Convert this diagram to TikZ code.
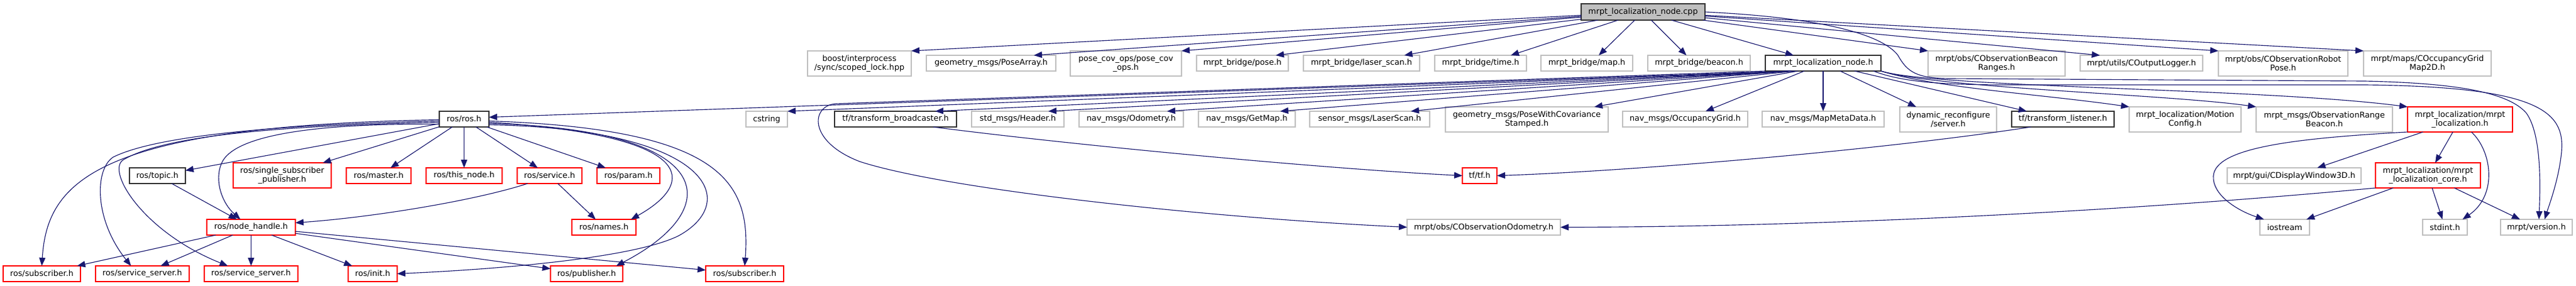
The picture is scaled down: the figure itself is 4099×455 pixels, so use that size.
\documentclass[tikz,border=0pt]{standalone}
\usepackage{fontspec}
\setmainfont{DejaVu Sans}
\usetikzlibrary{arrows.meta}
\definecolor{edgecol}{HTML}{191970}
\definecolor{extgray}{HTML}{BFBFBF}
\definecolor{redbox}{HTML}{FF0000}
\newcommand\mknode[7]{\node[#1, minimum width=#5pt, minimum height=#6pt] (#2) at (#3,#4) {#7};}
\begin{document}
\begin{tikzpicture}[x=1pt,y=-1pt,
  font=\fontsize{12.7pt}{14pt}\selectfont,
  boxbase/.style={inner sep=0pt, outer sep=0pt, line width=1.1pt, align=center, text=black},
  gbox/.style={boxbase, draw=extgray},
  rbox/.style={boxbase, draw=redbox},
  bbox/.style={boxbase, draw=black!80},
  conn/.style={draw=edgecol, line width=1.15pt, -{Triangle[length=13pt,width=10pt]}}]
\useasboundingbox (0,0) rectangle (4099,455);
% row 0
\mknode{bbox,fill=extgray}{cpp}{2614.5}{19}{197}{26}{mrpt\_localization\_node.cpp}
% row 1
\mknode{gbox}{boost}{1367.5}{101}{165}{40}{boost/interprocess\\/sync/scoped\_lock.hpp}
\mknode{gbox}{posearray}{1577}{100.5}{206}{25}{geometry\_msgs/PoseArray.h}
\mknode{gbox}{posecov}{1791.5}{101}{177}{40}{pose\_cov\_ops/pose\_cov\\\_ops.h}
\mknode{gbox}{bpose}{1977}{100.5}{146}{25}{mrpt\_bridge/pose.h}
\mknode{gbox}{blaser}{2166.5}{100.5}{185}{25}{mrpt\_bridge/laser\_scan.h}
\mknode{gbox}{btime}{2356}{100.5}{146}{25}{mrpt\_bridge/time.h}
\mknode{gbox}{bmap}{2525}{100.5}{146}{25}{mrpt\_bridge/map.h}
\mknode{gbox}{bbeacon}{2703.5}{100.5}{163}{25}{mrpt\_bridge/beacon.h}
\mknode{bbox}{nodeh}{2901}{100.5}{184}{25}{mrpt\_localization\_node.h}
\mknode{gbox}{ranges}{3177}{101}{218}{40}{mrpt/obs/CObservationBeacon\\Ranges.h}
\mknode{gbox}{logger}{3407.5}{100.5}{195}{25}{mrpt/utils/COutputLogger.h}
\mknode{gbox}{robotpose}{3633}{101}{206}{40}{mrpt/obs/CObservationRobot\\Pose.h}
\mknode{gbox}{gridmap}{3862.5}{101}{203}{40}{mrpt/maps/COccupancyGrid\\Map2D.h}
% row 2
\mknode{bbox}{rosh}{738.5}{189.5}{79}{25}{ros/ros.h}
\mknode{gbox}{cstring}{1220}{189.5}{66}{25}{cstring}
\mknode{bbox}{tfbroad}{1425}{189.5}{194}{25}{tf/transform\_broadcaster.h}
\mknode{gbox}{header}{1619.5}{189.5}{147}{25}{std\_msgs/Header.h}
\mknode{gbox}{odom}{1800}{189.5}{166}{25}{nav\_msgs/Odometry.h}
\mknode{gbox}{getmap}{1984}{189.5}{154}{25}{nav\_msgs/GetMap.h}
\mknode{gbox}{laserscan}{2179.5}{189.5}{191}{25}{sensor\_msgs/LaserScan.h}
\mknode{gbox}{posewcs}{2429.5}{190}{259}{40}{geometry\_msgs/PoseWithCovariance\\Stamped.h}
\mknode{gbox}{occgrid}{2681.5}{189.5}{199}{25}{nav\_msgs/OccupancyGrid.h}
\mknode{gbox}{mapmeta}{2901}{189.5}{194}{25}{nav\_msgs/MapMetaData.h}
\mknode{gbox}{dynrec}{3100}{190}{154}{40}{dynamic\_reconfigure\\/server.h}
\mknode{bbox}{tflisten}{3282.5}{189.5}{163}{25}{tf/transform\_listener.h}
\mknode{gbox}{motion}{3477}{190}{178}{40}{mrpt\_localization/Motion\\Config.h}
\mknode{gbox}{orb}{3698.5}{190}{217}{40}{mrpt\_msgs/ObservationRange\\Beacon.h}
\mknode{rbox}{mloc}{3914.5}{190}{167}{40}{mrpt\_localization/mrpt\\\_localization.h}
% row 3
\mknode{bbox}{topic}{250.5}{279.5}{89}{25}{ros/topic.h}
\mknode{rbox}{ssp}{449}{279}{156}{40}{ros/single\_subscriber\\\_publisher.h}
\mknode{rbox}{master}{602.5}{279.5}{103}{25}{ros/master.h}
\mknode{rbox}{thisnode}{738.5}{279.5}{121}{25}{ros/this\_node.h}
\mknode{rbox}{service}{874.5}{279.5}{103}{25}{ros/service.h}
\mknode{rbox}{param}{1000}{279.5}{100}{25}{ros/param.h}
\mknode{rbox}{tftf}{2354.5}{279.5}{55}{25}{tf/tf.h}
\mknode{gbox}{cdw}{3650.5}{279.5}{213}{25}{mrpt/gui/CDisplayWindow3D.h}
\mknode{rbox}{core}{3863.5}{279}{167}{40}{mrpt\_localization/mrpt\\\_localization\_core.h}
% row 4
\mknode{rbox}{nodehandle}{399.5}{361.5}{141}{25}{ros/node\_handle.h}
\mknode{rbox}{names}{961}{361.5}{102}{25}{ros/names.h}
\mknode{gbox}{cobsodom}{2361}{361.5}{244}{25}{mrpt/obs/CObservationOdometry.h}
\mknode{gbox}{iostream}{3635.5}{361.5}{79}{25}{iostream}
\mknode{gbox}{stdint}{3890.5}{361.5}{71}{25}{stdint.h}
\mknode{gbox}{version}{4036}{361.5}{114}{25}{mrpt/version.h}
% row 5
\mknode{rbox}{sub1}{66.5}{435.5}{123}{25}{ros/subscriber.h}
\mknode{rbox}{ss1}{226.5}{435.5}{149}{25}{ros/service\_server.h}
\mknode{rbox}{ss2}{399.5}{435.5}{149}{25}{ros/service\_server.h}
\mknode{rbox}{init}{593}{435.5}{78}{25}{ros/init.h}
\mknode{rbox}{pub}{933.5}{435.5}{115}{25}{ros/publisher.h}
\mknode{rbox}{sub2}{1185}{435.5}{124}{25}{ros/subscriber.h}

% ---- edges from cpp
\draw[conn] (cpp) -- (boost.north east);
\draw[conn] (cpp) -- ([xshift=68pt]posearray.north);
\draw[conn] (cpp) -- (posecov.north east);
\draw[conn] (cpp) -- ([xshift=53pt]bpose.north);
\draw[conn] (cpp) -- ([xshift=68pt]blaser.north);
\draw[conn] (cpp) -- ([xshift=48pt]btime.north);
\draw[conn] (cpp) -- ([xshift=19pt]bmap.north);
\draw[conn] (cpp) -- ([xshift=-20pt]bbeacon.north);
\draw[conn] (cpp) -- ([xshift=-47pt]nodeh.north);
\draw[conn] (cpp) -- (ranges.north west);
\draw[conn] (cpp) -- ([xshift=-66pt]logger.north);
\draw[conn] (cpp) -- (robotpose.north west);
\draw[conn] (cpp) -- (gridmap.north west);
\draw[conn] (cpp.east) .. controls (2900,28) and (2995,55) .. (3020,88) .. controls (3035,115) and (3050,124) .. (3100,125) -- (3762,129) .. controls (3900,132) and (3990,145) .. (4020,180) .. controls (4045,215) and (4042,300) .. ([xshift=4pt]version.north);

% ---- edges from mrpt_localization_node.h
\draw[conn] ([xshift=-51pt]nodeh.south) -- ([yshift=3pt]rosh.east);
\draw[conn] ([xshift=-51pt]nodeh.south) -- (cstring.north east);
\draw[conn] ([xshift=-51pt]nodeh.south) -- ([xshift=63pt]tfbroad.north);
\draw[conn] ([xshift=-51pt]nodeh.south) -- ([xshift=48.5pt]header.north);
\draw[conn] ([xshift=-51pt]nodeh.south) -- ([xshift=57pt]odom.north);
\draw[conn] ([xshift=-51pt]nodeh.south) -- ([xshift=53pt]getmap.north);
\draw[conn] ([xshift=-45pt]nodeh.south) -- ([xshift=65.5pt]laserscan.north);
\draw[conn] ([xshift=-40pt]nodeh.south) -- ([xshift=107.5pt]posewcs.north);
\draw[conn] ([xshift=-30pt]nodeh.south) -- ([xshift=32.5pt]occgrid.north);
\draw[conn] (nodeh) -- (mapmeta);
\draw[conn] ([xshift=27pt]nodeh.south) -- ([xshift=-51pt]dynrec.north);
\draw[conn] ([xshift=50pt]nodeh.south) -- ([xshift=-57.5pt]tflisten.north);
\draw[conn] (nodeh.south east) .. controls (3080,140) and (3250,150) .. (motion.north west);
\draw[conn] (nodeh.south east) .. controls (3080,140) and (3450,150) .. (orb.north west);
\draw[conn] (nodeh.south east) .. controls (3080,140) and (3600,140) .. (mloc.north west);
\draw[conn] (nodeh.south west) -- (1330,165) .. controls (1290,168) and (1285,225) .. (1368,257) .. controls (1500,300) and (1900,345) .. (cobsodom.west);
\draw[conn] ([xshift=80pt]nodeh.south) .. controls (3030,132) and (3100,135) .. (3200,135) -- (3762,135) .. controls (4050,138) and (4085,180) .. (4075,250) .. controls (4070,290) and (4055,330) .. ([xshift=13pt]version.north);

% ---- edges from ros/ros.h
\draw[conn] (rosh) -- (topic);
\draw[conn] (rosh) -- (ssp);
\draw[conn] (rosh) -- (master);
\draw[conn] (rosh) -- (thisnode);
\draw[conn] (rosh) -- (service);
\draw[conn] (rosh) -- (param);
\draw[conn] ([yshift=-8pt]rosh.west) .. controls (500,196) and (380,215) .. (355,255) .. controls (340,280) and (350,320) .. ([xshift=-17pt]nodehandle.north);
\draw[conn] ([yshift=-1pt]rosh.west) .. controls (150,200) and (75,290) .. (sub1.north);
\draw[conn] ([yshift=-3pt]rosh.west) .. controls (450,198) and (250,215) .. (180,250) .. controls (150,270) and (150,350) .. ([xshift=-18pt]ss1.north);
\draw[conn] ([yshift=-5pt]rosh.west) .. controls (450,200) and (260,215) .. (195,255) .. controls (170,275) and (230,370) .. ([xshift=-37pt]ss2.north);
\draw[conn] ([yshift=-3pt]rosh.east) .. controls (1150,205) and (1195,290) .. (sub2.north);
\draw[conn] ([yshift=-5pt]rosh.east) .. controls (1110,215) and (1110,290) .. ([xshift=43pt]names.north);
\draw[conn] ([yshift=-7pt]rosh.east) .. controls (1140,205) and (1160,330) .. ([xshift=47pt]pub.north);
\draw[conn] ([yshift=-9pt]rosh.east) .. controls (1130,205) and (1180,320) .. (1080,375) .. controls (1010,410) and (800,428) .. (init.east);

% ---- other ros edges
\draw[conn] (topic) -- (nodehandle);
\draw[conn] ([xshift=-35pt]service.south) .. controls (760,318) and (600,345) .. ([yshift=7pt]nodehandle.east);
\draw[conn] (service) -- (names);
\draw[conn] (nodehandle) -- (sub1);
\draw[conn] (nodehandle) -- (ss1);
\draw[conn] (nodehandle) -- (ss2);
\draw[conn] (nodehandle) -- (init);
\draw[conn] (nodehandle) -- (pub);
\draw[conn] (nodehandle) -- (sub2);

% ---- tf
\draw[conn] ([xshift=60pt]tfbroad.south) .. controls (1700,230) and (2100,268) .. (tftf.west);
\draw[conn] ([xshift=-51pt]tflisten.south) .. controls (3000,238) and (2600,272) .. (tftf.east);

% ---- mrpt_localization
\draw[conn] (mloc.south west) .. controls (3650,220) and (3525,235) .. (3522,280) .. controls (3520,310) and (3560,335) .. ([xshift=-33pt]iostream.north);
\draw[conn] (mloc) -- (cdw);
\draw[conn] (mloc) -- (core);
\draw[conn] ([xshift=18pt]mloc.south) .. controls (3965,240) and (3975,310) .. ([xshift=28pt]stdint.north);
\draw[conn] (core.south west) .. controls (3400,335) and (2900,361) .. (cobsodom.east);
\draw[conn] (core) -- (iostream);
\draw[conn] (core) -- (stdint);
\draw[conn] (core) -- (version);
\end{tikzpicture}
\end{document}
